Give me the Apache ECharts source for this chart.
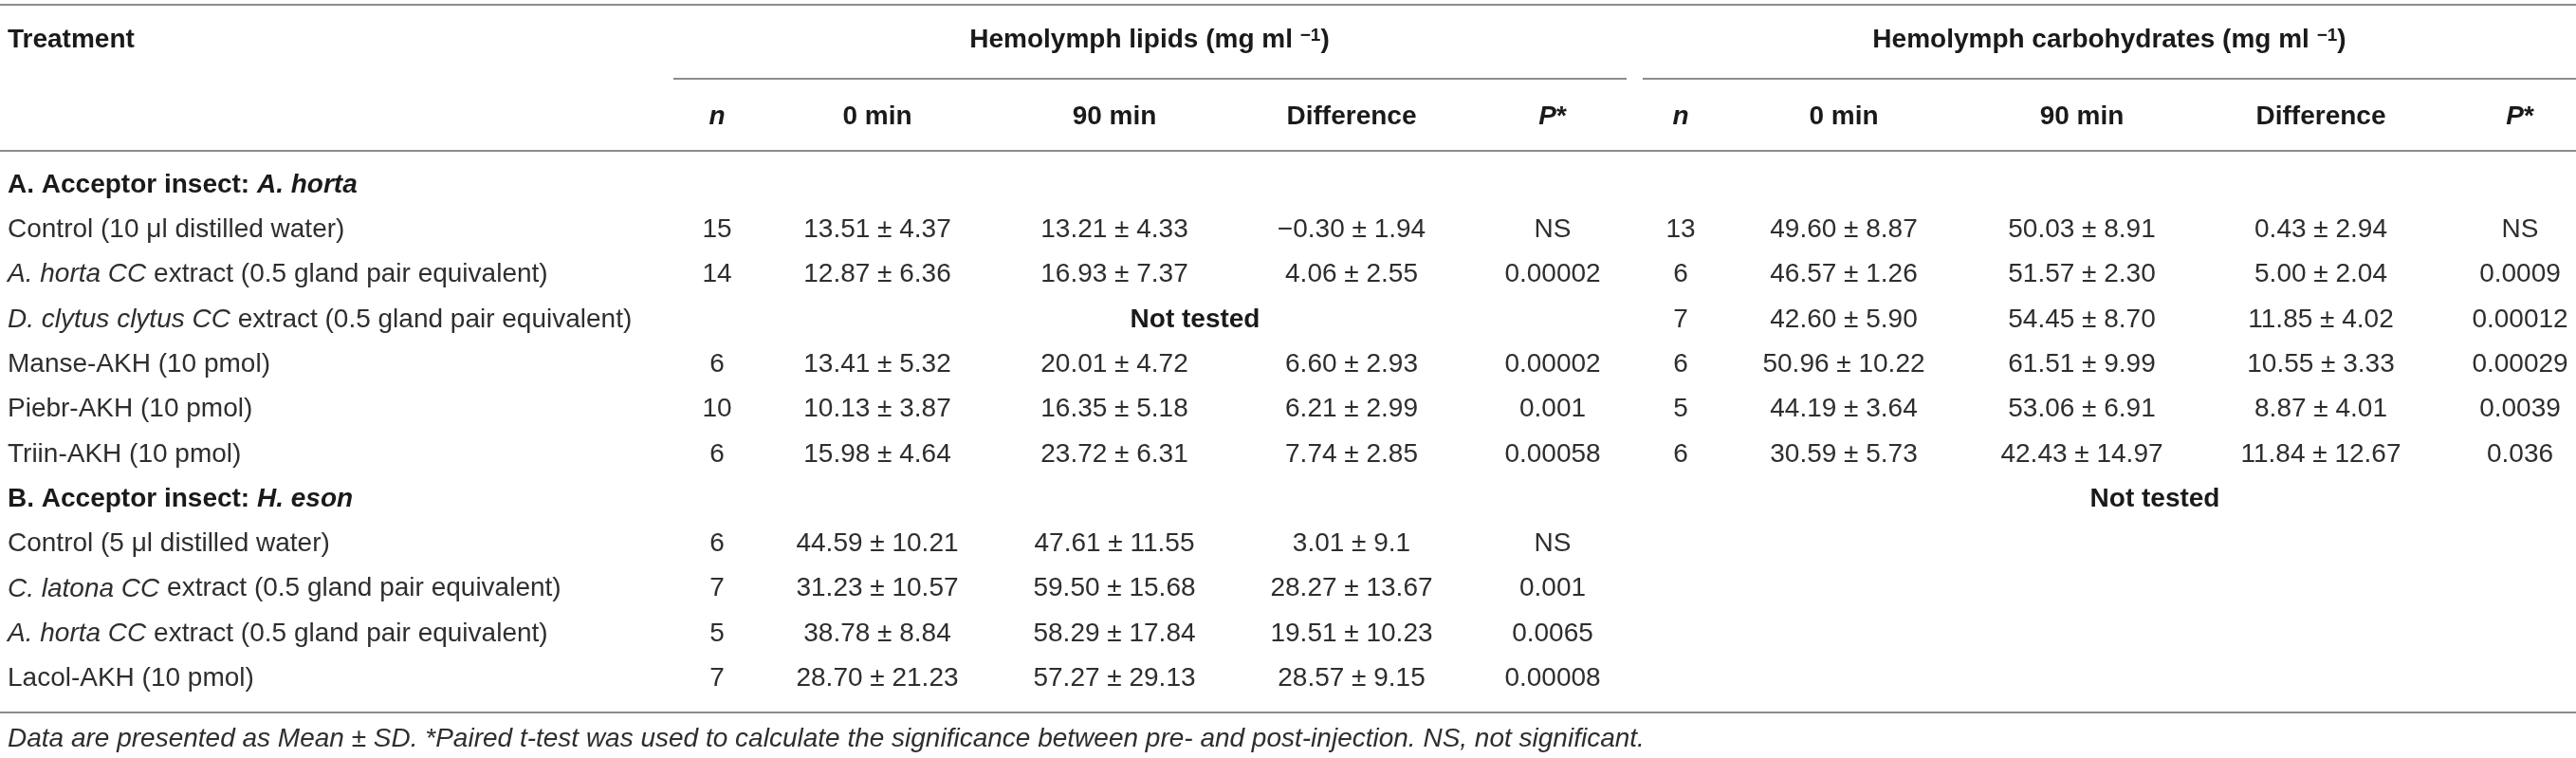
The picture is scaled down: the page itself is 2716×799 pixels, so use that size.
<!DOCTYPE html>
<html>
<head>
<meta charset="utf-8">
<script src="https://cdn.jsdelivr.net/npm/echarts@6/dist/echarts.min.js"></script>
<style>html,body{margin:0;padding:0;background:#fff;}#c{width:2716px;height:799px;}</style>
</head>
<body>
<div id="c"></div>
<script>
// ---------- data ----------
const sectionTitles = ['A. Acceptor insect: {bi|A. horta}', 'B. Acceptor insect: {bi|H. eson}'];
const treatmentsA = [
  'Control (10 μl distilled water)',
  '{i|A. horta CC} extract (0.5 gland pair equivalent)',
  '{i|D. clytus clytus CC} extract (0.5 gland pair equivalent)',
  'Manse-AKH (10 pmol)',
  'Piebr-AKH (10 pmol)',
  'Triin-AKH (10 pmol)'
];
const treatmentsB = [
  'Control (5 μl distilled water)',
  '{i|C. latona CC} extract (0.5 gland pair equivalent)',
  '{i|A. horta CC} extract (0.5 gland pair equivalent)',
  'Lacol-AKH (10 pmol)'
];
const colHeaders = ['{bi|n}', '0 min', '90 min', 'Difference', '{bi|P}*'];
const groupTitles = ['Hemolymph lipids (mg ml {sup|−1})', 'Hemolymph carbohydrates (mg ml {sup|−1})'];
const notTested = 'Not tested';

// treatment rows: A (6) then B (4)
const lipidN    = ['15','14',null,'6','10','6','6','7','5','7'];
const lipid0    = ['13.51 ± 4.37','12.87 ± 6.36',null,'13.41 ± 5.32','10.13 ± 3.87','15.98 ± 4.64','44.59 ± 10.21','31.23 ± 10.57','38.78 ± 8.84','28.70 ± 21.23'];
const lipid90   = ['13.21 ± 4.33','16.93 ± 7.37',null,'20.01 ± 4.72','16.35 ± 5.18','23.72 ± 6.31','47.61 ± 11.55','59.50 ± 15.68','58.29 ± 17.84','57.27 ± 29.13'];
const lipidDiff = ['−0.30 ± 1.94','4.06 ± 2.55',null,'6.60 ± 2.93','6.21 ± 2.99','7.74 ± 2.85','3.01 ± 9.1','28.27 ± 13.67','19.51 ± 10.23','28.57 ± 9.15'];
const lipidP    = ['NS','0.00002',null,'0.00002','0.001','0.00058','NS','0.001','0.0065','0.00008'];
const carbN     = ['13','6','7','6','5','6',null,null,null,null];
const carb0     = ['49.60 ± 8.87','46.57 ± 1.26','42.60 ± 5.90','50.96 ± 10.22','44.19 ± 3.64','30.59 ± 5.73',null,null,null,null];
const carb90    = ['50.03 ± 8.91','51.57 ± 2.30','54.45 ± 8.70','61.51 ± 9.99','53.06 ± 6.91','42.43 ± 14.97',null,null,null,null];
const carbDiff  = ['0.43 ± 2.94','5.00 ± 2.04','11.85 ± 4.02','10.55 ± 3.33','8.87 ± 4.01','11.84 ± 12.67',null,null,null,null];
const carbP     = ['NS','0.0009','0.00012','0.00029','0.0039','0.036',null,null,null,null];
const footnote = 'Data are presented as Mean ± SD. *Paired t-test was used to calculate the significance between pre- and post-injection. NS, not significant.';

// ---------- layout ----------
const W = 2716, H = 799;
const FONT = 'Liberation Sans, Arial, Helvetica, sans-serif';
const FS = 28;
const TXT = '#2e2e2e', BOLD = '#1a1a1a', RULE = '#8c8c8c';
const treatX = 8;
const lipidCols = [756, 925, 1175, 1425, 1637];
const carbCols  = [1772, 1944, 2195, 2447, 2657];
const lipidCenter = 1212, carbCenter = 2224, notTestedShift = 48;
const yTitle = 42, ySub = 123;
const rowTop = 171.4, rowH = 47.3, nRows = 12;

function rich(fw, fill) {
  return {
    i:   {fontFamily: FONT, fontSize: FS, fontStyle: 'italic', fontWeight: fw, fill: fill},
    bi:  {fontFamily: FONT, fontSize: FS, fontStyle: 'italic', fontWeight: 'bold', fill: BOLD},
    sup: {fontFamily: FONT, fontSize: 19, fontWeight: 'bold', fill: BOLD, lineHeight: 18, verticalAlign: 'top'}
  };
}

// ---------- rows ----------
const rowKeys = [];
const rowTreatIdx = [];
rowKeys.push('secA'); rowTreatIdx.push(-1);
treatmentsA.forEach((t, i) => { rowKeys.push('A' + i); rowTreatIdx.push(i); });
rowKeys.push('secB'); rowTreatIdx.push(-2);
treatmentsB.forEach((t, i) => { rowKeys.push('B' + i); rowTreatIdx.push(treatmentsA.length + i); });
const allTreat = treatmentsA.concat(treatmentsB);

const cells = [];
rowKeys.forEach((k, r) => {
  const ti = rowTreatIdx[r];
  if (ti < 0) {
    cells.push({x: treatX, row: r, text: sectionTitles[ti === -1 ? 0 : 1], align: 'left', bold: true});
    if (ti === -2) cells.push({x: carbCenter + notTestedShift, row: r, text: notTested, align: 'center', bold: true});
    return;
  }
  cells.push({x: treatX, row: r, text: allTreat[ti], align: 'left', bold: false});
  const lcols = [lipidN, lipid0, lipid90, lipidDiff, lipidP];
  const ccols = [carbN, carb0, carb90, carbDiff, carbP];
  if (lipidN[ti] === null) {
    cells.push({x: lipidCenter + notTestedShift, row: r, text: notTested, align: 'center', bold: true});
  } else {
    lcols.forEach((arr, j) => cells.push({x: lipidCols[j], row: r, text: arr[ti], align: 'center', bold: false}));
  }
  if (carbN[ti] !== null) {
    ccols.forEach((arr, j) => cells.push({x: carbCols[j], row: r, text: arr[ti], align: 'center', bold: false}));
  }
});

// ---------- static header graphics ----------
const graphics = [];
function line(x1, y, x2) {
  graphics.push({type: 'line', silent: true, shape: {x1: x1, y1: y, x2: x2, y2: y}, style: {stroke: RULE, lineWidth: 2}});
}
function text(x, y, t, align, bold) {
  graphics.push({type: 'text', silent: true, x: x, y: y, style: {
    text: t, align: align, verticalAlign: 'middle', fontFamily: FONT, fontSize: FS,
    fontWeight: bold ? 'bold' : 'normal', fill: bold ? BOLD : TXT, rich: rich(bold ? 'bold' : 'normal', bold ? BOLD : TXT)
  }});
}
line(0, 5, W);
line(710, 83, 1715);
line(1732, 83, W);
line(0, 159, W);
line(0, 751, W);
text(treatX, yTitle, 'Treatment', 'left', true);
text(lipidCenter, yTitle, groupTitles[0], 'center', true);
text(carbCenter, yTitle, groupTitles[1], 'center', true);
colHeaders.forEach((h, j) => { text(lipidCols[j], ySub, h, 'center', true); text(carbCols[j], ySub, h, 'center', true); });
graphics.push({type: 'text', silent: true, x: treatX, y: 779, style: {
  text: footnote, align: 'left', verticalAlign: 'middle', fontFamily: FONT, fontSize: 28, fontStyle: 'italic', fill: TXT
}});

// ---------- chart ----------
const chart = echarts.init(document.getElementById('c'), null, {renderer: 'canvas'});
chart.setOption({
  animation: false,
  backgroundColor: '#fff',
  grid: {left: 0, right: 0, top: rowTop, height: rowH * nRows, containLabel: false},
  xAxis: {type: 'value', min: 0, max: W, show: false},
  yAxis: {type: 'category', data: rowKeys, inverse: true, show: false},
  graphic: graphics,
  series: [{
    type: 'custom',
    coordinateSystem: 'cartesian2d',
    clip: false,
    silent: true,
    data: cells.map(c => [c.x, c.row]),
    renderItem: function (params, api) {
      const c = cells[params.dataIndex];
      const p = api.coord([api.value(0), api.value(1)]);
      const fw = c.bold ? 'bold' : 'normal';
      const fill = c.bold ? BOLD : TXT;
      return {type: 'text', x: p[0], y: p[1], style: {
        text: c.text, align: c.align, verticalAlign: 'middle', fontFamily: FONT, fontSize: FS,
        fontWeight: fw, fill: fill, rich: rich(fw, fill)
      }};
    }
  }]
});
</script>
</body>
</html>
